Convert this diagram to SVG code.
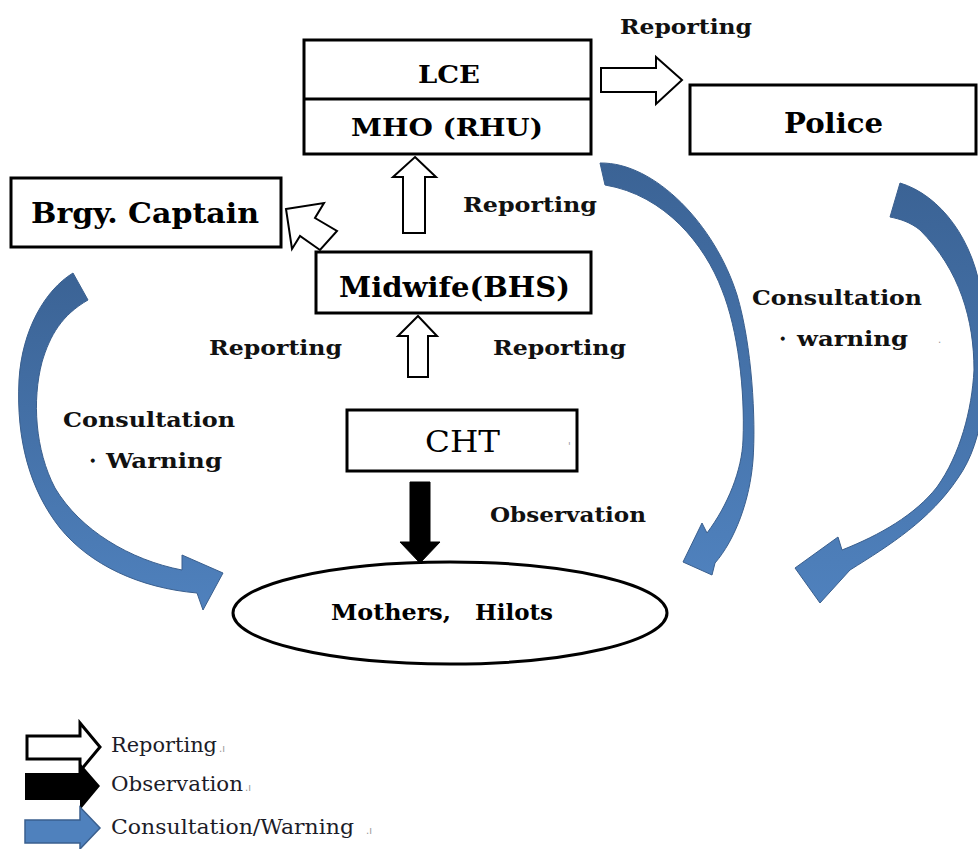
<svg xmlns="http://www.w3.org/2000/svg" width="978" height="849" viewBox="0 0 978 849">
  <defs>
    <linearGradient id="blueFill" x1="0" y1="0" x2="0" y2="1">
      <stop offset="0" stop-color="#3b6395"/>
      <stop offset="1" stop-color="#4f81bd"/>
    </linearGradient>
    <style>
      .box { fill: #fff; stroke: #000; stroke-width: 3; }
      .hollow { fill: #fff; stroke: #000; stroke-width: 2; stroke-linejoin: miter; }
      .solid { fill: #000; stroke: #000; stroke-width: 1; }
      .blue { fill: url(#blueFill); stroke: #3a5f8e; stroke-width: 1; }
      .lbl { font-family: "DejaVu Serif", "Liberation Serif", serif; font-weight: bold; fill: #111; }
      .node { font-family: "DejaVu Serif", "Liberation Serif", serif; font-weight: bold; fill: #000; }
      .leg { font-family: "DejaVu Serif", "Liberation Serif", serif; font-size: 20px; fill: #1c1c28; }
      .mark { font-family: "DejaVu Sans", sans-serif; font-size: 10px; fill: #999; }
    </style>
  </defs>
  <rect width="978" height="849" fill="#fff"/>

  <!-- connectors -->
  <g id="connectors">
    <!-- LCE to Police -->
    <path class="hollow" d="M601,68 L656,68 L656,57 L682,80 L656,104 L656,92 L601,92 Z"/>
    <!-- Midwife to MHO -->
    <path class="hollow" d="M415,157 L436,177 L425,177 L425,233 L403,233 L403,177 L393,177 Z"/>
    <!-- Midwife to Brgy. Captain -->
    <path class="hollow" d="M286,209 L324,203 L315,218 L337,231 L320,250 L300,236 L292,249 Z"/>
    <!-- CHT to Midwife -->
    <path class="hollow" d="M418,316 L437,336 L428,336 L428,377 L408,377 L408,336 L398,336 Z"/>
    <!-- CHT to Mothers (observation) -->
    <path class="solid" d="M410,482 L430,482 L430,542 L440,542 L420,563 L400,542 L410,542 Z"/>
    <!-- Brgy. Captain to Mothers -->
    <path class="blue" d="M73,273 C45,290 22,330 19,380 C16,440 30,490 60,528 C90,565 140,588 197,593 L203,610 L223,573 L182,555 L182,570 C130,560 80,530 55,488 C35,450 32,400 42,362 C50,335 62,315 88,300 Z"/>
    <!-- MHO to Mothers -->
    <path class="blue" d="M600,163 C655,162 715,225 737,295 C752,345 756,420 753,460 C750,500 735,540 715,563 L712,575 L683,562 L702,523 L707,533 C728,505 742,470 743,440 C745,390 738,330 722,290 C705,245 665,195 605,185 Z"/>
    <!-- Police to Mothers -->
    <path class="blue" d="M900,183 C940,195 975,240 982,300 C990,380 985,440 958,478 C930,520 890,545 850,570 L820,603 L795,568 L838,537 L842,550 C880,535 915,515 937,487 C960,455 972,410 974,370 C974,320 960,270 920,230 C910,222 900,219 890,217 Z"/>
  </g>

  <g id="lce-mho">
    <rect class="box" x="304" y="40" width="287" height="114"/>
    <line x1="304" y1="99" x2="591" y2="99" stroke="#000" stroke-width="3"/>
    <text class="node" x="418" y="83" font-size="24" textLength="62" lengthAdjust="spacingAndGlyphs">LCE</text>
    <text class="node" x="351" y="136" font-size="25" textLength="192" lengthAdjust="spacingAndGlyphs">MHO (RHU)</text>
  </g>

  <g id="police">
    <rect class="box" x="690" y="85" width="286" height="69"/>
    <text class="node" x="784" y="133" font-size="28" textLength="99" lengthAdjust="spacingAndGlyphs">Police</text>
  </g>

  <g id="brgy-captain">
    <rect class="box" x="11" y="178" width="270" height="69"/>
    <text class="node" x="31" y="223" font-size="28" textLength="228" lengthAdjust="spacingAndGlyphs">Brgy. Captain</text>
  </g>

  <g id="midwife">
    <rect class="box" x="316" y="252" width="275" height="61"/>
    <text class="node" x="339" y="297" font-size="28" textLength="231" lengthAdjust="spacingAndGlyphs">Midwife(BHS)</text>
  </g>

  <g id="cht">
    <rect class="box" x="347" y="410" width="230" height="61"/>
    <text x="425" y="452" font-family="DejaVu Serif, Liberation Serif, serif" font-size="30" fill="#000" textLength="75" lengthAdjust="spacingAndGlyphs">CHT</text>
    <text class="mark" x="568" y="450">'</text>
  </g>

  <g id="mothers-hilots">
    <ellipse cx="450" cy="613" rx="217" ry="51" fill="#fff" stroke="#000" stroke-width="3"/>
    <text class="node" x="331" y="620" font-size="22" textLength="120" lengthAdjust="spacingAndGlyphs">Mothers,</text>
    <text class="node" x="475" y="620" font-size="22" textLength="78" lengthAdjust="spacingAndGlyphs">Hilots</text>
  </g>

  <!-- flow labels -->
  <g id="labels">
    <text class="lbl" x="620" y="34" font-size="20" textLength="132" lengthAdjust="spacingAndGlyphs">Reporting</text>
    <text class="lbl" x="463" y="212" font-size="20" textLength="134" lengthAdjust="spacingAndGlyphs">Reporting</text>
    <text class="lbl" x="209" y="355" font-size="20" textLength="133" lengthAdjust="spacingAndGlyphs">Reporting</text>
    <text class="lbl" x="493" y="355" font-size="20" textLength="133" lengthAdjust="spacingAndGlyphs">Reporting</text>
    <text class="lbl" x="490" y="522" font-size="20" textLength="156" lengthAdjust="spacingAndGlyphs">Observation</text>
    <text class="lbl" x="63" y="427" font-size="21" textLength="172" lengthAdjust="spacingAndGlyphs">Consultation</text>
    <text class="lbl" x="82" y="468" font-size="21">・</text>
    <text class="lbl" x="106" y="468" font-size="21" textLength="116" lengthAdjust="spacingAndGlyphs">Warning</text>
    <text class="lbl" x="752" y="305" font-size="21" textLength="170" lengthAdjust="spacingAndGlyphs">Consultation</text>
    <text class="lbl" x="772" y="346" font-size="21">・</text>
    <text class="lbl" x="797" y="346" font-size="21" textLength="111" lengthAdjust="spacingAndGlyphs">warning</text>
    <text class="mark" x="938" y="343">.</text>
  </g>

  <!-- key -->
  <g id="legend">
    <path d="M27,736 L80,736 L80,723 L100,747 L80,771 L80,759 L27,759 Z" fill="#fff" stroke="#000" stroke-width="3"/>
    <path d="M25,773 L80,773 L80,763 L100,786 L80,810 L80,800 L25,800 Z" fill="#000"/>
    <path d="M25,820 L80,820 L80,807 L100,828 L80,849 L80,843 L25,843 Z" fill="#4f81bd" stroke="#3a5f8e" stroke-width="1.5"/>
    <text class="leg" x="111" y="752" textLength="106" lengthAdjust="spacingAndGlyphs">Reporting</text>
    <text class="mark" x="219" y="752">.ı</text>
    <text class="leg" x="111" y="791" textLength="132" lengthAdjust="spacingAndGlyphs">Observation</text>
    <text class="mark" x="245" y="791">.ı</text>
    <text class="leg" x="111" y="834" textLength="243" lengthAdjust="spacingAndGlyphs">Consultation/Warning</text>
    <text class="mark" x="366" y="834">.ı</text>
  </g>
</svg>
